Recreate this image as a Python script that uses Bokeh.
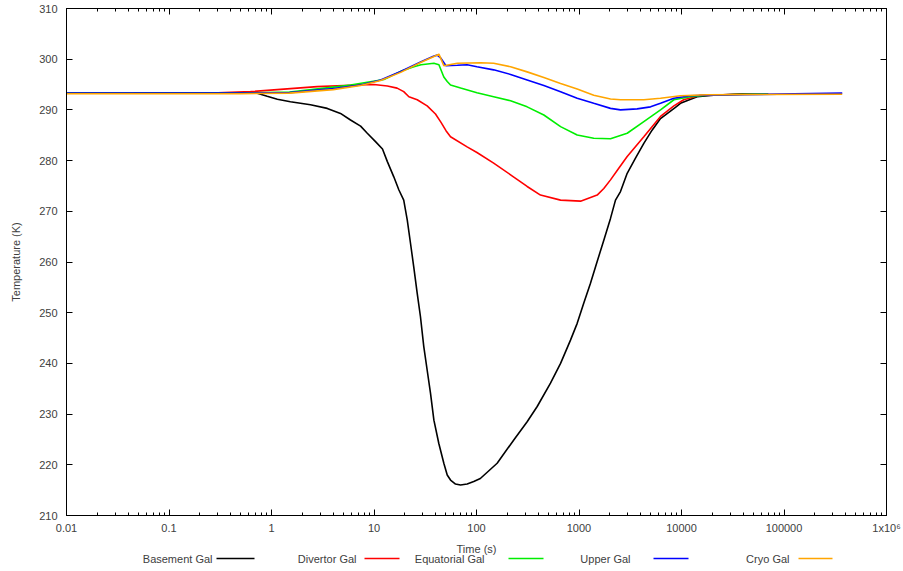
from bokeh.plotting import figure
from bokeh.layouts import column
from bokeh.models import Range1d, FixedTicker, LogAxis, LinearAxis
from bokeh.core.properties import value
from bokeh.embed import file_html
from bokeh.resources import INLINE

# ---- data (time in s, temperature in K) ----
basement_t = [0.045, 0.726, 0.908, 1.14, 1.53, 2.40, 3.5, 4.71, 5.9, 7.4, 8.6, 10.4, 12.1, 13.5,
              15.6, 17.5, 19.5, 21.1, 22.7, 24.4, 26.4, 28.4, 30.6, 33.0, 35.6, 38.4, 42.9, 48.0,
              51.8, 55.8, 62.4, 69.8, 81.1, 94, 109, 159, 231, 312, 391, 527, 661, 826, 960,
              1114, 1294, 1504, 1746, 2029, 2270, 2540, 2952, 3557, 4290, 5164, 6240, 8730,
              9770, 14200, 20600, 40000, 70000]
basement_T = [293.3, 293.3, 292.7, 292.1, 291.6, 291.0, 290.3, 289.3, 288.0, 286.8, 285.4, 283.7,
              282.3, 279.8, 276.8, 274.2, 272.2, 268.3, 263.7, 259.1, 253.8, 249.2, 243.3, 238.7,
              234.1, 228.8, 224.2, 220.3, 218.0, 217.0, 216.2, 216.0, 216.2, 216.7, 217.3, 220.3,
              224.9, 228.5, 231.5, 236.1, 240.0, 244.6, 247.9, 251.9, 255.8, 260.1, 264.3, 268.6,
              272.2, 273.9, 277.5, 280.5, 283.4, 286.0, 288.3, 290.5, 291.3, 292.6, 292.9, 293.2,
              293.2]

divertor_t = [0.01, 0.3, 0.624, 1.32, 2.79, 5.9, 9.95, 13.5, 16.8, 19.5, 21.9, 26.4, 33.0, 39.8,
              44.9, 50.4, 55.8, 81, 101, 147, 215, 312, 421, 661, 1035, 1504, 1746, 2029, 2443,
              2952, 4290, 6240, 8430, 10500, 15300, 70000]
divertor_T = [293.3, 293.35, 293.6, 294.1, 294.6, 294.85, 295.0, 294.7, 294.3, 293.6, 292.6, 292.0,
              290.8, 289.2, 287.6, 285.9, 284.7, 282.7, 281.6, 279.5, 277.2, 274.9, 273.2, 272.2,
              272.0, 273.2, 274.5, 276.2, 278.5, 280.8, 284.7, 288.7, 290.8, 292.0, 292.9, 293.2]

equatorial_t = [0.01, 0.5, 1.5, 4.0, 5.9, 12.5, 18.2, 24.5, 28.8, 38.4, 43, 48, 51.8, 55.8, 70,
                101, 147, 215, 312, 454, 661, 960, 1393, 2029, 2952, 4290, 6240, 8430, 12200,
                17800, 70000]
equatorial_T = [293.3, 293.3, 293.5, 294.5, 294.9, 296.0, 297.6, 298.5, 298.9, 299.2, 298.9, 296.5,
                295.6, 294.9, 294.3, 293.4, 292.6, 291.8, 290.6, 289.0, 286.7, 285.05, 284.4,
                284.3, 285.4, 287.7, 290.0, 292.0, 292.6, 292.9, 293.2]

upper_t = [0.01, 0.5, 1.5, 4.0, 7.4, 11.6, 18.2, 28.8, 38.0, 41.4, 44.9, 50.4, 65, 81, 101, 147,
           215, 312, 454, 661, 960, 1393, 2029, 2540, 3690, 4990, 6240, 8430, 12200, 17800,
           370000]
upper_T = [293.3, 293.3, 293.4, 294.2, 294.9, 295.9, 297.6, 299.5, 300.6, 300.8, 300.2, 298.7,
           298.8, 298.9, 298.5, 297.9, 297.0, 295.9, 294.8, 293.6, 292.3, 291.3, 290.3, 290.0,
           290.2, 290.6, 291.3, 292.3, 292.8, 292.9, 293.3]

cryo_t = [0.01, 0.5, 1.5, 4.0, 7.4, 11.6, 18.2, 28.8, 38.0, 43, 48, 65, 110, 147, 215, 312, 454,
          661, 960, 1393, 2029, 2540, 4290, 6240, 9770, 17800, 370000]
cryo_T = [293.2, 293.2, 293.3, 294.0, 294.8, 295.8, 297.4, 299.4, 300.5, 301.0, 298.7, 299.2,
          299.3, 299.2, 298.5, 297.5, 296.4, 295.2, 294.1, 292.9, 292.15, 292.0, 292.0, 292.3,
          292.8, 293.0, 293.1]

series_names = ["Basement Gal", "Divertor Gal", "Equatorial Gal", "Upper Gal", "Cryo Gal"]
series_colors = ["#000000", "#ff0000", "#00ee00", "#0000ff", "#ffa500"]
series_t = [basement_t, divertor_t, equatorial_t, upper_t, cryo_t]
series_T = [basement_T, divertor_T, equatorial_T, upper_T, cryo_T]

x_major = [0.01, 0.1, 1, 10, 100, 1000, 10000, 100000, 1000000]
x_labels = ["0.01", "0.1", "1", "10", "100", "1000", "10000", "100000", "1x10\u2076"]
y_major = [210, 220, 230, 240, 250, 260, 270, 280, 290, 300, 310]

TXT = "#404040"
FONT = "Liberation Sans"
W = 903
MAIN_H = 538
LEG_H = 33
BL, BR = 66, 17

x_minor = [m * d for d in x_major[:-1] for m in range(2, 10)]

p = figure(width=W, height=MAIN_H, x_axis_type="log",
           x_range=Range1d(0.01, 1e6), y_range=Range1d(210, 310),
           output_backend="svg", toolbar_location=None,
           min_border_left=BL, min_border_right=BR, min_border_top=8, min_border_bottom=23,
           y_axis_label="Temperature (K)")
p.grid.visible = False
p.outline_line_color = "black"
p.outline_line_width = 1

xt = FixedTicker(ticks=x_major, minor_ticks=x_minor)
yt = FixedTicker(ticks=y_major)


def style(ax):
    ax.axis_line_color = "black"
    ax.major_tick_line_color = "black"
    ax.minor_tick_line_color = "black"
    ax.major_tick_in = 6
    ax.major_tick_out = 0
    ax.minor_tick_in = 3
    ax.minor_tick_out = 0
    ax.major_label_text_font = FONT
    ax.major_label_text_font_size = "11px"
    ax.major_label_text_color = TXT
    ax.axis_label_text_font = FONT
    ax.axis_label_text_font_size = "11px"
    ax.axis_label_text_font_style = "normal"
    ax.axis_label_text_color = TXT


xa = p.xaxis[0]
xa.ticker = xt
xa.major_label_overrides = {v: s for v, s in zip(x_major, x_labels)}
style(xa)
xa.major_label_standoff = 6

ya = p.yaxis[0]
ya.ticker = yt
style(ya)
ya.major_label_standoff = 9
ya.axis_label_standoff = 14

top = LogAxis(ticker=xt)
style(top)
top.major_label_overrides = {v: "" for v in x_major}
top.major_label_standoff = 0
p.add_layout(top, "above")

right = LinearAxis(ticker=yt)
style(right)
right.major_label_overrides = {v: "" for v in y_major}
right.major_label_standoff = 0
p.add_layout(right, "right")

for t, T, c in zip(series_t, series_T, series_colors):
    p.line(t, T, line_color=c, line_width=1.6)

# ---- strip below: x-axis title and gnuplot-style legend (text, then sample) ----
# its frame lines up with the main frame, and its x range is in page pixels
leg = figure(width=W, height=LEG_H, x_range=Range1d(BL, W - BR), y_range=Range1d(LEG_H, 0),
             output_backend="svg", toolbar_location=None,
             x_axis_location=None, y_axis_location=None,
             min_border_left=BL, min_border_right=BR, min_border_top=0, min_border_bottom=0)
leg.grid.visible = False
leg.outline_line_color = None

title_x = [476]
title_y = [10]
leg.text(x=title_x, y=title_y, text=["Time (s)"], text_align="center", text_baseline="middle",
         text_font=value(FONT), text_font_size="11px", text_color=TXT)

legend_text_right = [212, 356, 484, 630, 789]
legend_line_x0 = [216, 364, 508, 653, 798]
legend_line_x1 = [254, 399, 543, 688, 832]
legend_row_y = [20] * 5
leg.text(x=legend_text_right, y=legend_row_y, text=series_names, text_align="right",
         text_baseline="middle", text_font=value(FONT), text_font_size="11px", text_color=TXT)
leg.segment(x0=legend_line_x0, y0=legend_row_y, x1=legend_line_x1, y1=legend_row_y,
            line_color=series_colors, line_width=1.6)

layout = column(p, leg, spacing=0)
open("out.html", "w").write(file_html(layout, INLINE))
